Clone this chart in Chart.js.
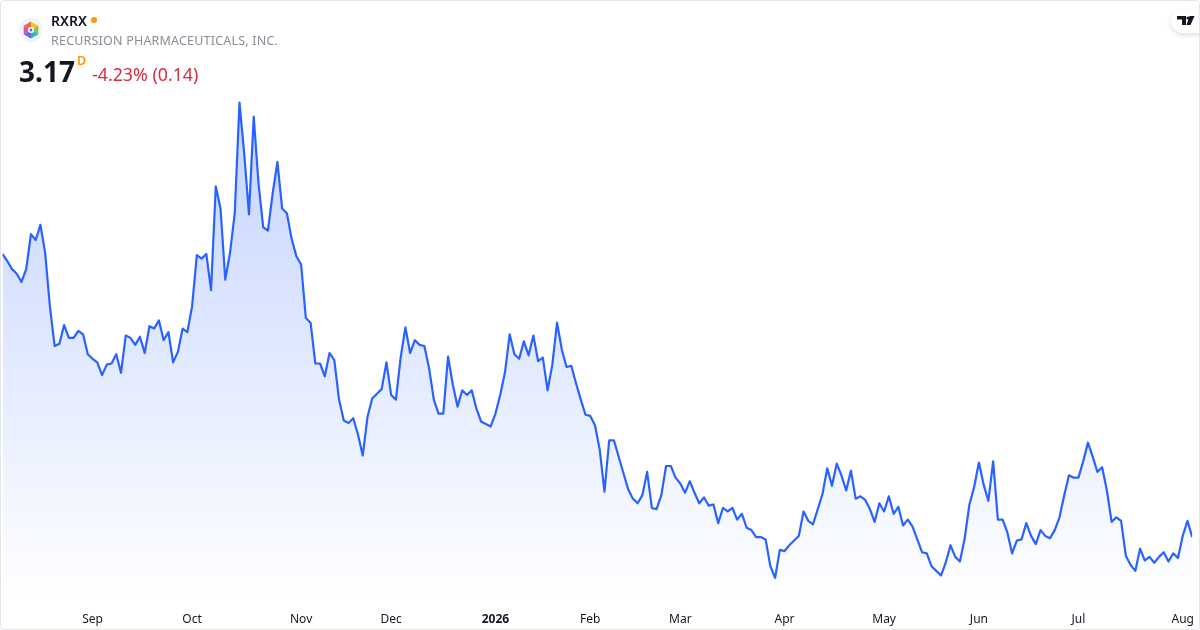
<!DOCTYPE html>
<html>
<head>
<meta charset="utf-8">
<title>RXRX</title>
<script src="https://cdn.jsdelivr.net/npm/chart.js@4/dist/chart.umd.js"></script>
<style>
  html, body { margin: 0; padding: 0; background: #fff; }
  #card { position: relative; width: 1200px; height: 630px; overflow: hidden; font-family: "Noto Sans", sans-serif; }
  #card canvas { position: absolute; left: 0; top: 0; }
  #frame { position: absolute; inset: 0; border: 1px solid #e4e6ec; border-radius: 4px; box-sizing: border-box; pointer-events: none; }
  .t { position: absolute; white-space: nowrap; line-height: 1; }
  #logo { position: absolute; left: 19px; top: 18px; }
  #dot { position: absolute; left: 91px; top: 17px; width: 6px; height: 6px; border-radius: 50%; background: #ff9800; }
  #tv { position: absolute; left: 1171px; top: 9px; width: 44px; height: 24px; border-radius: 12px; background: #fff; box-shadow: 0 2px 5px rgba(0,0,0,.14); }
</style>
</head>
<body>
<div id="card">
  <canvas id="chart" width="1200" height="630"></canvas>
  <svg id="logo" width="24" height="24" viewBox="0 0 24 24">
    <circle cx="12" cy="12" r="12" fill="#f0f3fa"/>
    <polygon points="12,3.6 12,12 19.3,7.8" fill="#f5c32c"/>
    <polygon points="19.3,7.8 12,12 19.3,16.2" fill="#8cc63f"/>
    <polygon points="19.3,16.2 12,12 12,20.4" fill="#2fb5c9"/>
    <polygon points="12,20.4 12,12 4.7,16.2" fill="#5b6be0"/>
    <polygon points="4.7,16.2 12,12 4.7,7.8" fill="#d64fa8"/>
    <polygon points="4.7,7.8 12,12 12,3.6" fill="#ef6a3a"/>
    <circle cx="12" cy="12" r="3" fill="#fff"/>
    <circle cx="12" cy="12" r="1.5" fill="#5b6be0"/>
  </svg>
  <div class="t" style="left:51px;top:14px;font-size:14px;font-weight:600;color:#131722">RXRX</div>
  <div id="dot"></div>
  <div class="t" style="left:51px;top:35px;font-size:12.5px;color:#8a8d96;letter-spacing:.2px">RECURSION PHARMACEUTICALS, INC.</div>
  <div class="t" style="left:19px;top:57px;font-size:28px;font-weight:700;color:#131722">3.17</div>
  <div class="t" style="left:77px;top:55px;font-size:12.5px;font-weight:600;color:#ff9800">D</div>
  <div class="t" style="left:92px;top:66px;font-size:17.8px;color:#d32f3f">-4.23% (0.14)</div>
  <div id="tv">
    <svg width="24" height="12" viewBox="0 0 24 12" style="position:absolute;left:5px;top:6px">
      <path d="M1 1h9v9H6V4.5H1z M13.5 1h5l-4 9h-4z" fill="#131722"/>
      <circle cx="12" cy="3" r="1.6" fill="#131722"/>
    </svg>
  </div>
  <div id="frame"></div>
</div>
<script>
const prices = [
  5.60, 5.54, 5.47, 5.43, 5.36, 5.47, 5.77, 5.72, 5.85, 5.61, 5.15, 4.81,
  4.83, 4.99, 4.88, 4.88, 4.94, 4.91, 4.74, 4.70, 4.67, 4.56, 4.65, 4.66,
  4.74, 4.58, 4.90, 4.88, 4.82, 4.89, 4.75, 4.98, 4.96, 5.03, 4.86, 4.93,
  4.67, 4.76, 4.96, 4.93, 5.15, 5.59, 5.56, 5.60, 5.29, 6.18, 5.99, 5.38,
  5.61, 5.95, 6.90, 6.46, 5.94, 6.78, 6.21, 5.83, 5.80, 6.12, 6.39, 5.99,
  5.95, 5.73, 5.58, 5.51, 5.05, 5.01, 4.66, 4.66, 4.55, 4.75, 4.69, 4.35,
  4.17, 4.15, 4.19, 4.05, 3.87, 4.20, 4.36, 4.40, 4.44, 4.67, 4.39, 4.35,
  4.71, 4.97, 4.75, 4.86, 4.82, 4.81, 4.62, 4.35, 4.23, 4.23, 4.72, 4.48,
  4.29, 4.43, 4.39, 4.43, 4.27, 4.16, 4.14, 4.12, 4.23, 4.39, 4.58, 4.91,
  4.74, 4.70, 4.85, 4.73, 4.90, 4.68, 4.71, 4.43, 4.65, 5.01, 4.78, 4.63,
  4.64, 4.49, 4.35, 4.22, 4.21, 4.13, 3.92, 3.56, 4.00, 4.00, 3.86, 3.72,
  3.58, 3.50, 3.46, 3.53, 3.73, 3.42, 3.41, 3.53, 3.78, 3.78, 3.68, 3.63,
  3.55, 3.65, 3.55, 3.46, 3.51, 3.44, 3.45, 3.29, 3.42, 3.39, 3.42, 3.32,
  3.37, 3.25, 3.23, 3.17, 3.17, 3.15, 2.92, 2.82, 3.06, 3.05, 3.10, 3.14,
  3.18, 3.39, 3.31, 3.28, 3.41, 3.54, 3.76, 3.61, 3.80, 3.70, 3.57, 3.74,
  3.50, 3.52, 3.49, 3.41, 3.30, 3.46, 3.39, 3.52, 3.37, 3.43, 3.27, 3.32,
  3.26, 3.15, 3.04, 3.03, 2.92, 2.88, 2.84, 2.95, 3.10, 3.00, 2.96, 3.16,
  3.45, 3.60, 3.81, 3.62, 3.48, 3.82, 3.32, 3.32, 3.21, 3.03, 3.14, 3.15,
  3.29, 3.18, 3.11, 3.23, 3.18, 3.16, 3.23, 3.34, 3.53, 3.70, 3.68, 3.68,
  3.82, 3.98, 3.86, 3.73, 3.77, 3.57, 3.30, 3.34, 3.31, 3.01, 2.93, 2.88,
  3.07, 2.97, 3.00, 2.95, 3.00, 3.04, 2.96, 3.03, 2.99, 3.18, 3.31, 3.17
];
const monthLabels = ['Sep', 'Oct', 'Nov', 'Dec', '2026', 'Feb', 'Mar', 'Apr', 'May', 'Jun', 'Jul', 'Aug'];
const monthIndex = [19, 40, 63, 82, 104, 124, 143, 165, 186, 206, 227, 249];

function areaFill(context) {
  const area = context.chart.chartArea;
  if (!area) return 'rgba(41,98,255,0.1)';
  const g = context.chart.ctx.createLinearGradient(0, 100, 0, area.bottom);
  g.addColorStop(0, 'rgba(41,98,255,0.28)');
  g.addColorStop(1, 'rgba(41,98,255,0)');
  return g;
}

new Chart(document.getElementById('chart'), {
  type: 'line',
  data: {
    labels: prices.map((p, i) => i),
    datasets: [{
      data: prices,
      borderColor: '#2962ff',
      borderWidth: 2.2,
      borderJoinStyle: 'round',
      backgroundColor: areaFill,
      fill: 'start',
      pointRadius: 0,
      tension: 0
    }]
  },
  options: {
    responsive: false,
    animation: false,
    layout: { padding: { left: 2.5, right: 7.8, top: 0, bottom: 0 } },
    plugins: { legend: { display: false }, tooltip: { enabled: false } },
    scales: {
      x: {
        type: 'linear',
        min: 0,
        max: 251,
        grid: { display: false, drawTicks: false },
        border: { display: false },
        afterBuildTicks: axis => { axis.ticks = monthIndex.map(v => ({ value: v })); },
        afterFit: axis => { axis.height = 30; axis.paddingLeft = 0; axis.paddingRight = 0; },
        ticks: {
          autoSkip: false,
          maxRotation: 0,
          padding: 12,
          color: '#131722',
          font: ctx => ({
            family: '"Noto Sans", sans-serif',
            size: 12,
            weight: ctx.tick && ctx.tick.value === 104 ? 'bold' : 'normal'
          }),
          callback: v => monthLabels[monthIndex.indexOf(v)]
        }
      },
      y: { display: false, min: 2.63, max: 7.78 }
    }
  }
});
</script>
</body>
</html>
